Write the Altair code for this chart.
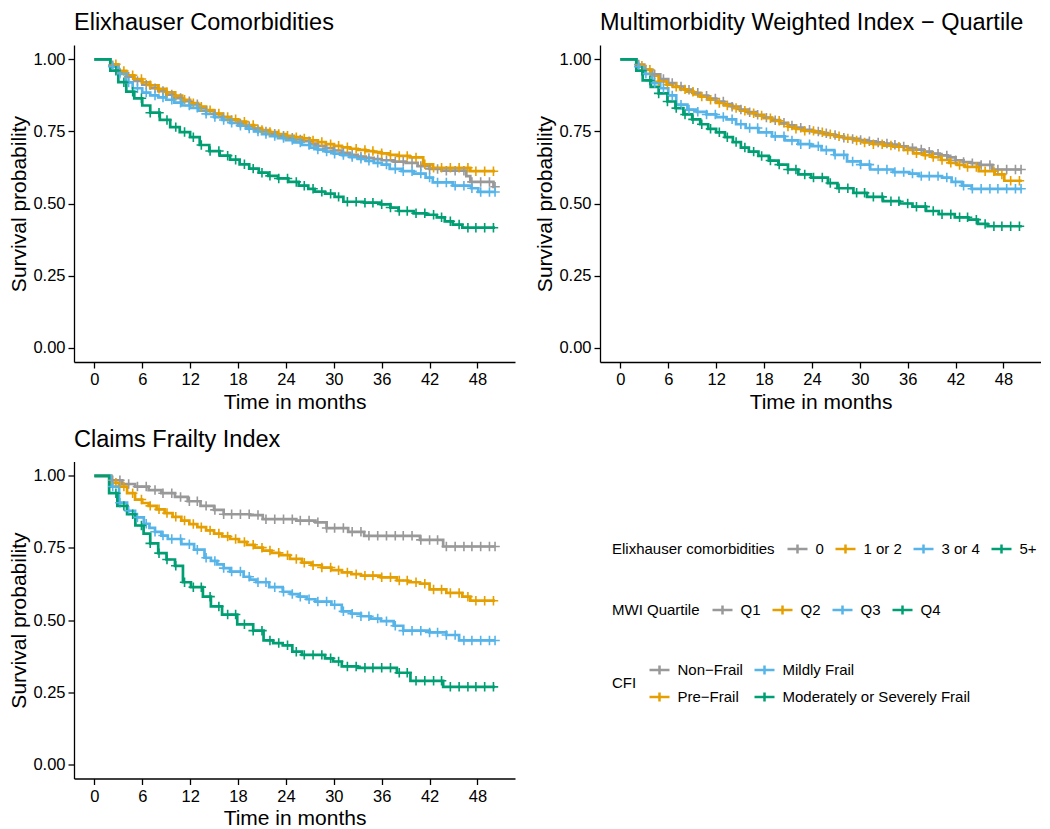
import altair as alt
import pandas as pd
import numpy as np

FONT = "Liberation Sans"
GREY, ORANGE, BLUE, GREEN = "#999999", "#E69F00", "#56B4E9", "#009E73"
PALETTE = [GREY, ORANGE, BLUE, GREEN]

# ---------------- categories ----------------
elix_groups = ["0", "1 or 2", "3 or 4", "5+"]
mwi_groups = ["Q1", "Q2", "Q3", "Q4"]
cfi_groups = ["Non\u2212Frail", "Pre\u2212Frail", "Mildly Frail", "Moderately or Severely Frail"]

x_ticks = [0, 6, 12, 18, 24, 30, 36, 42, 48]
y_ticks = [0.0, 0.25, 0.5, 0.75, 1.0]

# ---------------- Elixhauser: (month, survival) ----------------
elix_0 = [(0, 1.0), (2.0, 0.98), (3.0, 0.955), (4.0, 0.94), (5.0, 0.925), (6.0, 0.912), (7.0, 0.9),
          (8.0, 0.89), (9.0, 0.878), (10.0, 0.866), (11.0, 0.855), (12.0, 0.844), (13.0, 0.833),
          (14.0, 0.822), (15.0, 0.81), (16.0, 0.8), (17.0, 0.79), (18.0, 0.778), (19.0, 0.768),
          (20.0, 0.758), (21.0, 0.75), (22.0, 0.742), (23.0, 0.735), (24.0, 0.728), (25.0, 0.722),
          (26.0, 0.716), (27.0, 0.708), (28.0, 0.7), (29.0, 0.692), (30.0, 0.684), (31.0, 0.676),
          (32.0, 0.669), (33.0, 0.663), (34.0, 0.658), (35.0, 0.654), (36.0, 0.65), (37.5, 0.645),
          (39.0, 0.641), (40.5, 0.63), (42.0, 0.62), (43.5, 0.614), (46.6, 0.595), (47.1, 0.575),
          (50.0, 0.558), (50.2, 0.558)]
elix_12 = [(0, 1.0), (2.0, 0.983), (3.0, 0.96), (4.0, 0.945), (5.0, 0.932), (6.0, 0.92), (7.0, 0.91),
           (8.0, 0.898), (9.0, 0.886), (10.0, 0.874), (11.0, 0.86), (12.0, 0.848), (13.0, 0.836),
           (14.0, 0.824), (15.0, 0.812), (16.0, 0.8), (17.0, 0.792), (18.0, 0.784), (19.0, 0.772),
           (20.0, 0.762), (21.0, 0.755), (22.0, 0.748), (23.0, 0.741), (24.0, 0.735), (25.0, 0.73),
           (26.0, 0.726), (27.0, 0.719), (28.0, 0.713), (29.0, 0.706), (30.0, 0.7), (31.0, 0.695),
           (32.0, 0.69), (33.0, 0.686), (34.0, 0.682), (35.0, 0.678), (36.0, 0.674), (37.0, 0.669),
           (38.0, 0.665), (39.5, 0.66), (41.2, 0.636), (42.4, 0.624), (47.1, 0.612), (50.2, 0.612)]
elix_34 = [(0, 1.0), (2.0, 0.975), (3.0, 0.95), (4.0, 0.92), (4.8, 0.9), (6.0, 0.885), (7.0, 0.875),
           (8.0, 0.868), (9.0, 0.86), (10.0, 0.85), (11.0, 0.84), (12.0, 0.832), (13.0, 0.822),
           (14.0, 0.811), (15.0, 0.8), (16.0, 0.79), (17.0, 0.78), (18.0, 0.77), (19.0, 0.76),
           (20.0, 0.75), (21.0, 0.741), (22.0, 0.734), (23.0, 0.727), (24.0, 0.72), (25.0, 0.712),
           (26.0, 0.703), (27.0, 0.694), (28.0, 0.687), (29.0, 0.68), (30.0, 0.673), (31.0, 0.668),
           (32.0, 0.661), (33.0, 0.655), (34.0, 0.648), (35.0, 0.641), (36.0, 0.635), (37.0, 0.62),
           (38.5, 0.612), (40.0, 0.604), (41.5, 0.59), (42.4, 0.573), (44.9, 0.562), (47.2, 0.553),
           (48.1, 0.54), (50.2, 0.54)]
elix_5p = [(0, 1.0), (2.0, 0.961), (3.0, 0.921), (4.0, 0.888), (5.0, 0.865), (6.0, 0.84), (7.0, 0.815),
           (8.2, 0.79), (9.5, 0.765), (10.7, 0.748), (12.0, 0.73), (13.2, 0.703), (14.4, 0.682),
           (15.7, 0.666), (17.0, 0.652), (18.2, 0.636), (19.4, 0.621), (20.6, 0.607), (21.8, 0.596),
           (23.0, 0.587), (24.3, 0.575), (25.6, 0.562), (26.8, 0.551), (27.6, 0.541), (28.9, 0.534),
           (30.1, 0.523), (31.2, 0.506), (33.8, 0.503), (35.9, 0.497), (37.1, 0.486), (38.1, 0.474),
           (40.0, 0.466), (41.6, 0.461), (42.9, 0.452), (43.9, 0.438), (44.9, 0.427), (46.1, 0.416),
           (50.2, 0.416)]

# ---------------- MWI quartiles ----------------
mwi_q1 = [(0, 1.0), (2.0, 0.982), (3.0, 0.965), (4.0, 0.948), (5.0, 0.932), (6.0, 0.918), (7.0, 0.906),
          (8.0, 0.895), (9.0, 0.884), (10.0, 0.874), (11.0, 0.864), (12.0, 0.854), (13.0, 0.845),
          (14.0, 0.836), (15.0, 0.826), (16.0, 0.817), (17.0, 0.808), (18.0, 0.798), (19.0, 0.789),
          (20.0, 0.78), (21.0, 0.771), (22.0, 0.763), (23.0, 0.756), (24.0, 0.75), (25.0, 0.744),
          (26.0, 0.738), (27.0, 0.733), (28.0, 0.728), (29.0, 0.724), (30.0, 0.72), (31.0, 0.716),
          (32.0, 0.712), (33.0, 0.708), (34.0, 0.704), (35.0, 0.698), (36.0, 0.693), (37.0, 0.687),
          (38.0, 0.68), (39.0, 0.673), (40.0, 0.667), (41.0, 0.66), (42.0, 0.65), (43.0, 0.644),
          (44.0, 0.64), (45.0, 0.634), (46.6, 0.618), (50.3, 0.618)]
mwi_q2 = [(0, 1.0), (2.0, 0.978), (2.8, 0.964), (3.8, 0.944), (4.8, 0.924), (5.8, 0.912), (6.6, 0.905),
          (7.5, 0.896), (8.3, 0.888), (9.2, 0.879), (10.0, 0.871), (11.0, 0.86), (12.0, 0.849),
          (13.0, 0.84), (14.1, 0.831), (15.0, 0.822), (16.0, 0.813), (17.0, 0.805), (18.0, 0.796),
          (19.0, 0.787), (20.0, 0.777), (21.0, 0.767), (22.0, 0.759), (23.0, 0.752), (24.4, 0.747),
          (25.5, 0.74), (26.8, 0.733), (28.0, 0.726), (29.3, 0.719), (30.5, 0.712), (31.7, 0.706),
          (33.0, 0.701), (34.2, 0.697), (35.5, 0.686), (36.7, 0.674), (38.0, 0.668), (39.1, 0.661),
          (40.2, 0.651), (41.2, 0.641), (42.2, 0.634), (43.2, 0.627), (44.9, 0.612), (46.9, 0.601),
          (48.1, 0.579), (50.3, 0.579)]
mwi_q3 = [(0, 1.0), (2.0, 0.975), (3.0, 0.95), (4.0, 0.918), (5.0, 0.9), (6.0, 0.875), (7.0, 0.843),
          (8.4, 0.826), (9.6, 0.818), (10.8, 0.809), (12.0, 0.8), (13.3, 0.792), (14.5, 0.775),
          (15.7, 0.762), (17.3, 0.747), (19.0, 0.733), (20.6, 0.719), (22.3, 0.706), (23.9, 0.699),
          (25.2, 0.685), (26.8, 0.669), (28.4, 0.646), (30.1, 0.635), (31.3, 0.618), (34.2, 0.609),
          (36.2, 0.604), (37.4, 0.595), (40.3, 0.59), (41.5, 0.575), (42.8, 0.562), (44.0, 0.551),
          (50.3, 0.551)]
mwi_q4 = [(0, 1.0), (2.0, 0.961), (2.8, 0.927), (3.8, 0.905), (4.8, 0.882), (5.9, 0.854), (6.9, 0.831),
          (7.9, 0.809), (9.0, 0.792), (10.0, 0.775), (11.0, 0.759), (12.0, 0.747), (13.1, 0.73),
          (14.1, 0.713), (15.1, 0.694), (16.1, 0.68), (17.3, 0.665), (18.6, 0.649), (19.8, 0.635),
          (21.0, 0.618), (22.3, 0.601), (23.9, 0.59), (26.0, 0.571), (27.2, 0.553), (29.2, 0.537),
          (30.9, 0.523), (32.9, 0.508), (35.0, 0.5), (36.6, 0.489), (38.3, 0.474), (39.9, 0.463),
          (41.9, 0.452), (43.6, 0.444), (44.8, 0.429), (46.0, 0.421), (50.3, 0.421)]

# ---------------- Claims Frailty Index ----------------
cfi_nf = [(0, 1.0), (2.1, 0.985), (3.5, 0.972), (5.1, 0.963), (6.8, 0.951), (8.4, 0.94), (10.1, 0.927),
          (11.7, 0.912), (13.3, 0.896), (15.0, 0.882), (16.2, 0.867), (19.5, 0.864), (21.1, 0.85),
          (25.3, 0.845), (27.7, 0.839), (29.1, 0.819), (31.8, 0.806), (33.8, 0.792), (40.8, 0.778),
          (43.7, 0.755), (50.2, 0.755)]
cfi_pf = [(0, 1.0), (2.1, 0.976), (3.1, 0.963), (4.1, 0.94), (5.1, 0.918), (6.0, 0.906), (6.8, 0.896),
          (7.8, 0.884), (8.8, 0.871), (9.8, 0.858), (10.9, 0.845), (11.9, 0.833), (12.9, 0.822),
          (14.0, 0.811), (15.0, 0.8), (16.0, 0.79), (17.0, 0.781), (18.1, 0.771), (19.1, 0.761),
          (20.1, 0.751), (21.1, 0.741), (22.2, 0.733), (23.2, 0.725), (24.5, 0.712), (26.0, 0.699),
          (27.2, 0.69), (28.5, 0.682), (29.7, 0.673), (31.0, 0.665), (32.2, 0.659), (33.4, 0.654),
          (35.9, 0.648), (37.9, 0.637), (39.3, 0.631), (40.8, 0.626), (42.0, 0.606), (44.1, 0.594),
          (46.1, 0.581), (47.1, 0.567), (50.2, 0.567)]
cfi_mf = [(0, 1.0), (2.1, 0.963), (3.1, 0.907), (4.1, 0.879), (5.1, 0.856), (6.2, 0.834), (6.9, 0.82),
          (7.6, 0.806), (8.4, 0.793), (9.2, 0.781), (10.9, 0.763), (12.5, 0.744), (13.8, 0.716),
          (14.6, 0.705), (15.4, 0.693), (16.2, 0.68), (17.0, 0.668), (18.7, 0.65), (19.5, 0.64),
          (20.3, 0.631), (21.9, 0.614), (23.6, 0.598), (24.6, 0.59), (25.6, 0.581), (26.6, 0.572),
          (27.7, 0.564), (29.7, 0.553), (31.0, 0.53), (32.2, 0.522), (33.4, 0.513), (34.6, 0.505),
          (35.9, 0.496), (37.5, 0.48), (38.7, 0.463), (42.0, 0.457), (44.1, 0.448), (45.7, 0.429),
          (50.2, 0.429)]
cfi_msf = [(0, 1.0), (1.85, 0.94), (2.88, 0.896), (4.1, 0.867), (5.14, 0.828), (6.17, 0.8), (7.0, 0.766),
           (8.0, 0.732), (9.04, 0.71), (10.1, 0.688), (11.1, 0.631), (12.1, 0.614), (13.6, 0.581),
           (14.6, 0.547), (16.0, 0.519), (17.9, 0.485), (19.9, 0.463), (21.2, 0.429), (22.4, 0.42),
           (23.6, 0.412), (24.8, 0.39), (26.0, 0.379), (28.9, 0.367), (29.9, 0.356), (31.0, 0.339),
           (33.0, 0.334), (37.9, 0.317), (39.6, 0.289), (43.7, 0.268), (50.2, 0.268)]

# ---------------- censoring times (months) ----------------
censor_a = [2.3, 3.2, 4.3, 5.4, 6.5, 7.6, 8.6, 9.7, 10.8, 11.9, 12.9, 14.0, 15.1, 16.2, 17.2, 18.3,
            19.4, 20.5, 21.5, 22.6, 23.7, 24.8, 25.8, 26.9, 28.0, 29.1, 30.1, 31.2, 32.3, 33.4, 34.4,
            35.5, 36.6, 37.7, 38.7, 39.8, 40.9, 42.0, 43.0, 44.1, 45.2, 46.3, 47.3, 48.4, 49.5, 50.2]
censor_b = [2.7, 3.7, 4.8, 5.9, 7.0, 8.1, 9.1, 10.2, 11.3, 12.4, 13.4, 14.5, 15.6, 16.7, 17.7, 18.8,
            19.9, 21.0, 22.0, 23.1, 24.2, 25.3, 26.3, 27.4, 28.5, 29.6, 30.6, 31.7, 32.8, 33.9, 34.9,
            36.0, 37.1, 38.2, 39.2, 40.3, 41.4, 42.5, 43.5, 44.6, 45.7, 46.8, 47.8, 48.9, 50.0]

W, H = 441, 317
CROSS = "M-1,0H1M0,-1V1"
KEY = "M-1,0H1M0,-0.45V0.45"


def km_frame(groups, curves):
    rows = []
    for g, pts in zip(groups, curves):
        for t, s in pts:
            rows.append({"group": g, "t": t, "s": s})
    return pd.DataFrame(rows)


def censor_frame(groups, curves, censors):
    rows = []
    for g, pts, cl in zip(groups, curves, censors):
        ts = np.array([p[0] for p in pts])
        ss = np.array([p[1] for p in pts])
        for c in cl:
            if c <= ts[-1]:
                i = int(np.searchsorted(ts, c, side="right")) - 1
                rows.append({"group": g, "t": c, "s": float(ss[i])})
    return pd.DataFrame(rows)


def panel(title, groups, curves):
    censors = [censor_a, censor_b, censor_a, censor_b]
    lines = km_frame(groups, curves)
    cens = censor_frame(groups, curves, censors)
    x = alt.X("t:Q", scale=alt.Scale(domain=[-2.55, 52.7], nice=False, zero=False),
              axis=alt.Axis(values=x_ticks, title="Time in months", format="d"))
    y = alt.Y("s:Q", scale=alt.Scale(domain=[-0.05, 1.05], nice=False, zero=False),
              axis=alt.Axis(values=y_ticks, title="Survival probability", format=".2f"))
    color = alt.Color("group:N", scale=alt.Scale(domain=groups, range=PALETTE), legend=None)
    ln = alt.Chart(lines).mark_line(interpolate="step-after", strokeWidth=2.7).encode(x=x, y=y, color=color)
    pt = alt.Chart(cens).mark_point(shape=CROSS, size=90, filled=False, strokeWidth=1.6,
                                    opacity=1).encode(x=x, y=y, color=color)
    ttl = alt.Chart(pd.DataFrame({"label": [title]})).mark_text(
        align="left", baseline="alphabetic", font=FONT, fontSize=23.5, color="black"
    ).encode(x=alt.value(0), y=alt.value(-14.7), text="label:N")
    return alt.layer(ln, pt, ttl).properties(width=W, height=H)


p1 = panel("Elixhauser Comorbidities", elix_groups, [elix_0, elix_12, elix_34, elix_5p])
p2 = panel("Multimorbidity Weighted Index \u2212 Quartile", mwi_groups, [mwi_q1, mwi_q2, mwi_q3, mwi_q4])
p3 = panel("Claims Frailty Index", cfi_groups, [cfi_nf, cfi_pf, cfi_mf, cfi_msf])


def legend_layer(field, title, domain, rng, lx, ly, columns=None):
    df = pd.DataFrame({field: domain})
    kw = dict(title=title, orient="none", legendX=lx, legendY=ly, direction="horizontal",
              titleOrient="left", titleAnchor="middle", titleBaseline="middle",
              symbolType=KEY, symbolSize=400, symbolStrokeWidth=2.5, symbolOpacity=1)
    if columns:
        kw["columns"] = columns
    return alt.Chart(df).mark_point(opacity=0, filled=False).encode(
        color=alt.Color(f"{field}:N", scale=alt.Scale(domain=domain, range=rng), legend=alt.Legend(**kw))
    )


cfi_legend_order = [cfi_groups[0], cfi_groups[2], cfi_groups[1], cfi_groups[3]]
p4 = alt.layer(
    legend_layer("e", "Elixhauser comorbidities", elix_groups, PALETTE, 12, 76),
    legend_layer("m", "MWI Quartile", mwi_groups, PALETTE, 12, 137),
    legend_layer("c", "CFI", cfi_legend_order, [GREY, BLUE, ORANGE, GREEN], 12, 197, columns=2),
).resolve_scale(color="independent").properties(width=W, height=H)

chart = alt.concat(
    p1, p2, p3, p4, columns=2, spacing={"row": 99.5, "column": 85}, bounds="flush"
).resolve_scale(color="independent").properties(
    padding={"top": 3, "left": 0, "right": 0, "bottom": 0}
).configure_view(stroke=None).configure_axis(
    grid=False, domainColor="black", domainWidth=1.3, tickColor="black", tickWidth=1.3, tickSize=6,
    labelFont=FONT, labelFontSize=16.5, labelColor="black", titleFont=FONT, titleFontSize=21,
    titleFontWeight="normal", titleColor="black", labelFlush=False,
).configure_axisX(labelPadding=3.5, titlePadding=3).configure_axisY(labelPadding=3, titlePadding=3.5).configure_legend(
    labelFont=FONT, titleFont=FONT, labelFontSize=15, titleFontSize=15, titleFontWeight="normal",
    labelColor="black", titleColor="black", labelOffset=6.5, columnPadding=6, rowPadding=6,
    titlePadding=11, labelLimit=500, padding=0,
)

chart.save("out.html", embed_options={"renderer": "svg", "actions": False})
